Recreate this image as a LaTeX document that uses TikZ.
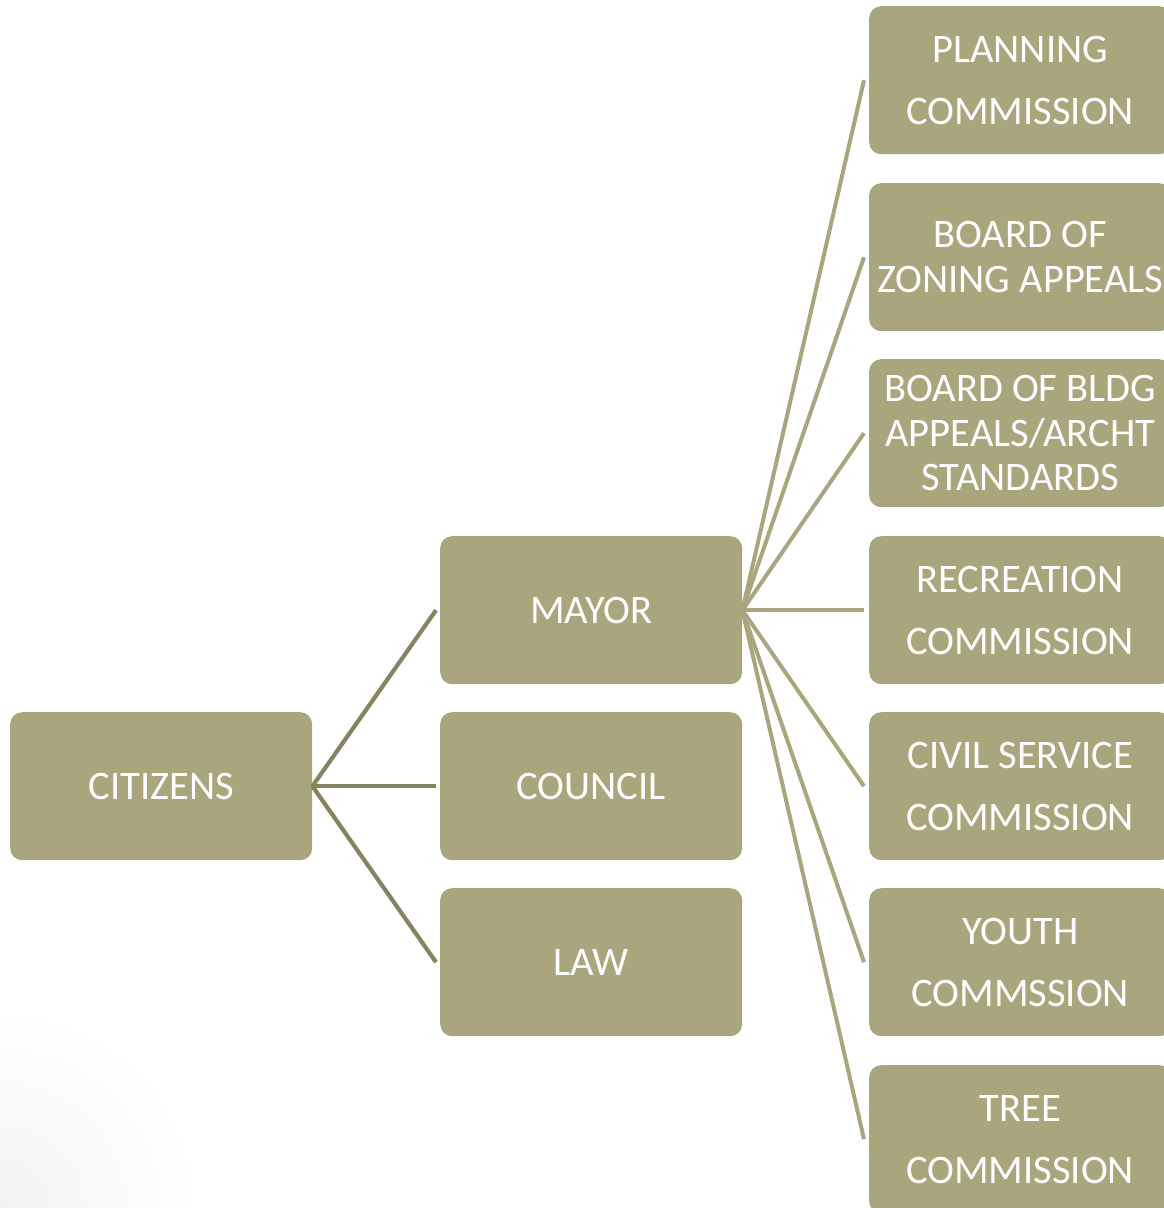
\documentclass[tikz,border=0pt]{standalone}
\usepackage{fontspec}
\setmainfont{Carlito}
\definecolor{boxc}{HTML}{A9A67E}
\definecolor{linec}{HTML}{86835F}
\definecolor{linem}{HTML}{A9A67E}
\begin{document}
\begin{tikzpicture}[x=1pt,y=-1pt,
  orgbox/.style={fill=boxc, rounded corners=12pt, minimum width=302pt, minimum height=148pt,
    anchor=north west, inner sep=0pt, align=center, text=white},
  wide/.style={font=\fontsize{40.5}{62}\selectfont},
  tight/.style={font=\fontsize{40.5}{44.5}\selectfont},
  citline/.style={draw=linec, line width=4.2pt},
  mayline/.style={draw=linem, line width=4pt}]
\useasboundingbox (0,0) rectangle (1163,1208);
\begin{scope}
\clip (0,0) rectangle (1163,1208);
\shade[inner color=black!5, outer color=white, draw=none] (0,1208) circle (200pt);
\end{scope}
\node[orgbox, wide] (cit) at (10,712) {CITIZENS};
\node[orgbox, wide] (may) at (440,536) {MAYOR};
\node[orgbox, wide] (cou) at (440,712) {COUNCIL};
\node[orgbox, wide] (law) at (440,888) {LAW};
\node[orgbox, wide] (pla) at (869,6) {PLANNING\\COMMISSION};
\node[orgbox, tight] (zon) at (869,183) {BOARD OF\\ZONING APPEALS};
\node[orgbox, tight] (bld) at (869,359) {BOARD OF BLDG\\APPEALS/ARCHT\\STANDARDS};
\node[orgbox, wide] (rec) at (869,536) {RECREATION\\COMMISSION};
\node[orgbox, wide] (civ) at (869,712) {CIVIL SERVICE\\COMMISSION};
\node[orgbox, wide] (you) at (869,888) {YOUTH\\COMMSSION};
\node[orgbox, wide] (tre) at (869,1065) {TREE\\COMMISSION};
\foreach \t in {may,cou,law}
  \draw[citline] (cit.east) -- ([xshift=-4pt]\t.west);
\foreach \t in {pla,zon,bld,rec,civ,you,tre}
  \draw[mayline] (may.east) -- ([xshift=-5pt]\t.west);
\end{tikzpicture}
\end{document}
